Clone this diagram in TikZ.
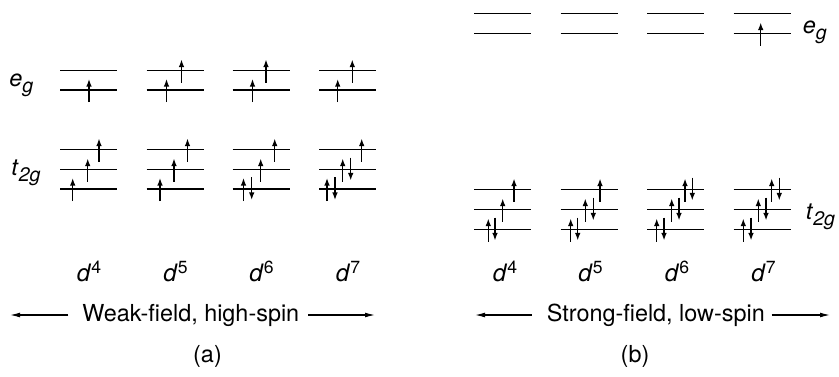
\documentclass[tikz,border=0pt]{standalone}
\usepackage{fontspec}
\setmainfont{TeX Gyre Heros}
\usetikzlibrary{arrows.meta}
\newcommand\orbl[2]{\draw[level] (#1,#2) -- ++(57,0);}
\newcommand\elup[2]{\draw[spin] (#1,{#2+12}) -- (#1,{#2-11});}
\newcommand\eldn[2]{\draw[spin] (#1,{#2-12}) -- (#1,{#2+11});}
\newcommand\sublab[2]{\textit{#1}\raisebox{-3pt}{\fontsize{9.8}{11}\selectfont\textit{#2}}}
\newcommand\dconf[1]{\textit{d}\raisebox{4.2pt}{\fontsize{8.8}{10}\selectfont #1}}
\begin{document}
\begin{tikzpicture}[x=0.5pt,y=-0.5pt,
  level/.style={line width=0.9pt},
  spin/.style={line width=0.7pt,-{Latex[length=3.8pt,width=2.8pt]}},
  lab/.style={inner sep=0pt,font=\fontsize{11.7}{13}\selectfont},
  dlab/.style={inner sep=0pt,anchor=base,font=\fontsize{12}{14}\selectfont},
  fieldarrow/.style={line width=0.55pt,-{Latex[length=5pt,width=2.4pt]}}]
\useasboundingbox (0,0) rectangle (839,376);
% ---------- (a) weak field ----------
\foreach \x in {60,146.5,232.5,319}{
  \orbl{\x}{70.5}\orbl{\x}{90}\orbl{\x}{149.5}\orbl{\x}{169.5}\orbl{\x}{189}}
% d4
\elup{89}{90}
\elup{72.7}{189}\elup{87.7}{169.5}\elup{99}{149.5}
% d5
\elup{166.5}{90}\elup{181.5}{70.5}
\elup{160}{189}\elup{174}{169.5}\elup{187.5}{149.5}
% d6
\elup{252.5}{90}\elup{266}{70.5}
\elup{243.5}{189}\eldn{251.7}{189}\elup{260.7}{169.5}\elup{274.7}{149.5}
% d7
\elup{337.7}{90}\elup{352.3}{70.5}
\elup{327}{189}\eldn{335}{189}\elup{342.7}{169.5}\eldn{350.7}{169.5}\elup{361.7}{149.5}
\node[lab,anchor=base west] (egA) at (9,86.7) {\sublab{e}{g}};
\node[lab,anchor=base west] (tgA) at (11,175) {\sublab{t}{2g}};
\node[dlab] (dA4) at (89,281.5) {\dconf{4}};
\node[dlab] (dA5) at (175.5,281.5) {\dconf{5}};
\node[dlab] (dA6) at (261.5,281.5) {\dconf{6}};
\node[dlab] (dA7) at (348,281.5) {\dconf{7}};
\node[lab,anchor=base] (wf) at (190.8,321.5) {Weak-field, high-spin};
\coordinate (wfl0) at (68.3,315); \coordinate (wfl) at (10,315);
\coordinate (wfr0) at (308.3,315); \coordinate (wfr) at (375,315);
\draw[fieldarrow] (wfl0) -- (wfl);
\draw[fieldarrow] (wfr0) -- (wfr);
\node[lab] (capa) at (207.5,356) {(a)};
% ---------- (b) strong field ----------
\foreach \x in {474,560.5,647,733.5}{
  \orbl{\x}{13.5}\orbl{\x}{33.5}\orbl{\x}{189.5}\orbl{\x}{209.5}\orbl{\x}{229.5}}
% d4
\elup{488.3}{229.5}\eldn{495}{229.5}\elup{502.7}{209.5}\elup{514}{189.5}
% d5
\elup{570.7}{229.5}\eldn{577.7}{229.5}\elup{585.3}{209.5}\eldn{593.3}{209.5}\elup{600}{189.5}
% d6
\elup{656.7}{229.5}\eldn{664}{229.5}\elup{671.7}{209.5}\eldn{679}{209.5}\elup{685}{189.5}\eldn{692.3}{189.5}
% d7
\elup{743.3}{229.5}\eldn{751}{229.5}\elup{758.3}{209.5}\eldn{766}{209.5}\elup{771.7}{189.5}\eldn{779.3}{189.5}
\elup{760.7}{33.5}
\node[lab,anchor=base west] (egB) at (802.5,33.3) {\sublab{e}{g}};
\node[lab,anchor=base west] (tgB) at (805.5,219.5) {\sublab{t}{2g}};
\node[dlab] (dB4) at (505,281.5) {\dconf{4}};
\node[dlab] (dB5) at (590.5,281.5) {\dconf{5}};
\node[dlab] (dB6) at (677,281.5) {\dconf{6}};
\node[dlab] (dB7) at (763.5,281.5) {\dconf{7}};
\node[lab,anchor=base] (sf) at (655.8,321.5) {Strong-field, low-spin};
\coordinate (sfl0) at (531.7,315); \coordinate (sfl) at (475,315);
\coordinate (sfr0) at (771.7,315); \coordinate (sfr) at (830,315);
\draw[fieldarrow] (sfl0) -- (sfl);
\draw[fieldarrow] (sfr0) -- (sfr);
\node[lab] (capb) at (635,356) {(b)};
\end{tikzpicture}
\end{document}
